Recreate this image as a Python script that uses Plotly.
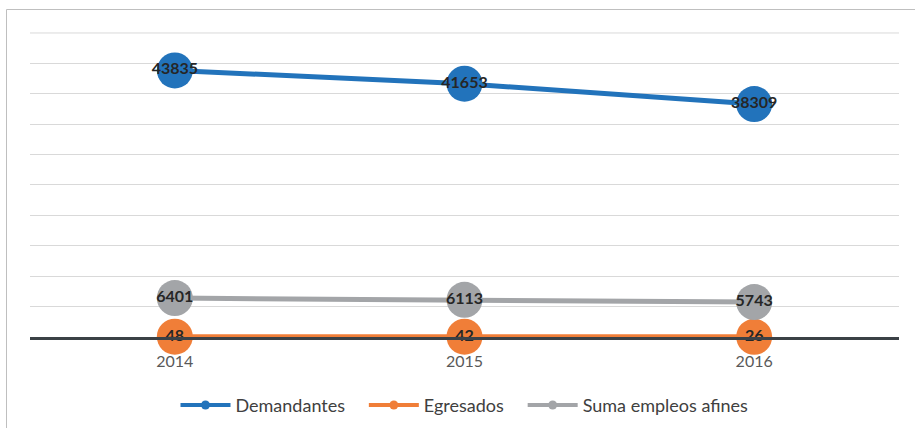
import plotly.graph_objects as go

years = ["2014", "2015", "2016"]
demandantes = [43835, 41653, 38309]
egresados = [48, 42, 26]
suma_empleos = [6401, 6113, 5743]
grid_top = 50000

series = [
    ("Demandantes", demandantes, "#2273BB"),
    ("Egresados", egresados, "#F07E38"),
    ("Suma empleos afines", suma_empleos, "#A3A5A8"),
]

FONT = "Lato, Open Sans, sans-serif"
NB = "\u00a0"

fig = go.Figure()
for name, vals, color in series:
    fig.add_trace(go.Scatter(
        x=years, y=vals, name=name, mode="lines+markers+text",
        line=dict(color=color, width=5),
        marker=dict(color=color, size=36),
        text=[str(v) for v in vals], textposition="middle center",
        textfont=dict(family=FONT, size=16, color="#262626", weight="bold"),
        cliponaxis=False, showlegend=False,
    ))
# legend entries (no data drawn)
for i, (name, vals, color) in enumerate(series):
    fig.add_trace(go.Scatter(
        x=[None], y=[None], name=name + (NB * 3 if i < len(series) - 1 else ""),
        mode="lines+markers", line=dict(color=color, width=4),
        marker=dict(color=color, size=9), showlegend=True,
    ))

fig.update_layout(
    width=915, height=428,
    margin=dict(l=30, r=16, t=32, b=91, autoexpand=False),
    paper_bgcolor="white", plot_bgcolor="white",
    font=dict(family=FONT, color="#595959"),
    showlegend=True,
    legend=dict(orientation="h", x=0.5, xanchor="center", y=-0.224, yanchor="middle",
                font=dict(size=18, color="#404040"),
                traceorder="normal", itemwidth=50),
    xaxis=dict(type="category", range=[-0.5, 2.5], showgrid=False, showline=True,
               linecolor="#3B4146", linewidth=3, ticks="", ticklabelstandoff=8,
               tickfont=dict(size=16, color="#595959"), fixedrange=True),
    yaxis=dict(range=[0, 50160], dtick=5000, showgrid=True, gridcolor="#D9D9D9",
               gridwidth=1, showticklabels=False, zeroline=False, showline=False),
    shapes=[
        dict(type="line", xref="paper", yref="y", x0=0, x1=1, y0=grid_top, y1=grid_top,
             line=dict(color="#D9D9D9", width=1), layer="below"),
        dict(type="rect", xref="paper", yref="paper",
             x0=(6.5 - 30) / 869, x1=(930 - 30) / 869,
             y0=(337 - 440) / 305, y1=(337 - 9.5) / 305,
             line=dict(color="#BFBFBF", width=1), layer="below"),
    ],
)

fig.write_html("out.html", config={"displayModeBar": False},
               post_script="document.body.style.margin='0';document.body.style.overflow='hidden';")
